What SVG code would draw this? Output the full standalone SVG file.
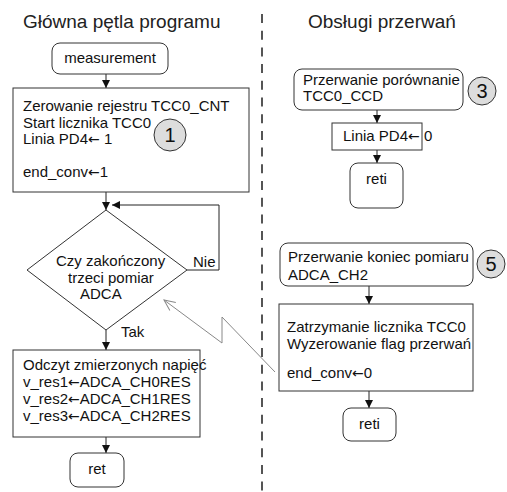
<svg xmlns="http://www.w3.org/2000/svg" width="507" height="492" viewBox="0 0 507 492">
<style>
text{font-family:"Liberation Sans",Arial,sans-serif;font-size:15px;fill:#111}
.ar{font-family:"DejaVu Sans",sans-serif;font-size:14px}
.title{font-size:19px;fill:#222}
.box{fill:#fff;stroke:#333;stroke-width:1}
.badge{fill:#ddd;stroke:#333;stroke-width:1}
.num{font-size:20px;text-anchor:middle}
.mid{text-anchor:middle}
.flow{fill:none;stroke:#222;stroke-width:1;marker-end:url(#ah)}
.irq{fill:none;stroke:#888;stroke-width:1;marker-start:url(#oh)}
.sep{stroke:#555;stroke-width:2;stroke-dasharray:9 7.7}
</style>
<defs>
<marker id="ah" markerUnits="userSpaceOnUse" markerWidth="9" markerHeight="9" refX="8" refY="4" orient="auto">
<path d="M0,0 L8,4 L0,8 z" fill="#111"/>
</marker>
<marker id="oh" markerUnits="userSpaceOnUse" markerWidth="14" markerHeight="14" refX="12" refY="6" orient="auto-start-reverse">
<path d="M1,1 L12,6 L1,11" fill="none" stroke="#888" stroke-width="1"/>
</marker>
</defs>

<line class="sep" x1="262" y1="14" x2="262" y2="492"/>

<text class="title" x="23" y="28">Główna pętla programu</text>
<text class="title" x="308" y="28">Obsługi przerwań</text>

<g id="connectors">
<line class="flow" x1="106" y1="74" x2="106" y2="88"/>
<line class="flow" x1="106" y1="192" x2="106" y2="210"/>
<polyline class="flow" points="187,270 219,270 219,205 112,205"/>
<line class="flow" x1="106" y1="330" x2="106" y2="350"/>
<line class="flow" x1="106" y1="437" x2="106" y2="453"/>
<line class="flow" x1="377" y1="110" x2="377" y2="123"/>
<line class="flow" x1="377" y1="150" x2="377" y2="163"/>
<line class="flow" x1="369" y1="286" x2="369" y2="304"/>
<line class="flow" x1="369" y1="391" x2="369" y2="408"/>
<polyline class="irq" points="164,300 222,343 222,317 275,372"/>
<text x="193" y="267">Nie</text>
<text x="121" y="337">Tak</text>
</g>

<g id="measurement">
<rect class="box" x="52" y="43" width="116" height="31" rx="8"/>
<text class="mid" x="110" y="63">measurement</text>
</g>

<g id="init">
<rect class="box" x="13" y="88" width="236" height="104"/>
<text x="23" y="111">Zerowanie rejestru TCC0_CNT</text>
<text x="23" y="127.5">Start licznika TCC0</text>
<text x="23" y="144">Linia PD4<tspan class="ar">←</tspan> 1</text>
<text x="23" y="177">end_conv<tspan class="ar">←</tspan>1</text>
</g>

<g id="badge1">
<circle class="badge" cx="170" cy="135" r="16"/>
<text class="num" x="170" y="142">1</text>
</g>

<g id="decision">
<polygon class="box" points="106,210 187,270 106,330 27,270"/>
<text x="56" y="266">Czy zakończony</text>
<text x="68" y="283">trzeci pomiar</text>
<text x="80" y="299">ADCA</text>
</g>

<g id="read">
<rect class="box" x="13" y="350" width="187" height="87"/>
<text x="23" y="370">Odczyt zmierzonych napięć</text>
<text x="23" y="387">v_res1<tspan class="ar">←</tspan>ADCA_CH0RES</text>
<text x="23" y="404">v_res2<tspan class="ar">←</tspan>ADCA_CH1RES</text>
<text x="23" y="421">v_res3<tspan class="ar">←</tspan>ADCA_CH2RES</text>
</g>

<g id="ret">
<rect class="box" x="70" y="453" width="54" height="34" rx="8"/>
<text class="mid" x="97" y="474">ret</text>
</g>

<g id="irq-ccd">
<rect class="box" x="294" y="69" width="169" height="41" rx="8"/>
<text x="303" y="85">Przerwanie porównanie</text>
<text x="303" y="101">TCC0_CCD</text>
</g>

<g id="badge3">
<circle class="badge" cx="482" cy="91" r="14"/>
<text class="num" x="482" y="98">3</text>
</g>

<g id="pd4-low">
<rect class="box" x="332" y="123" width="90" height="27"/>
<text x="343" y="141">Linia PD4<tspan class="ar">←</tspan> 0</text>
</g>

<g id="reti1">
<rect class="box" x="350" y="163" width="53" height="45" rx="8"/>
<text class="mid" x="376.5" y="184">reti</text>
</g>

<g id="irq-adc">
<rect class="box" x="280" y="243" width="193" height="43" rx="8"/>
<text x="288" y="262">Przerwanie koniec pomiaru</text>
<text x="288" y="280">ADCA_CH2</text>
</g>

<g id="badge5">
<circle class="badge" cx="491" cy="264" r="14"/>
<text class="num" x="491" y="271">5</text>
</g>

<g id="stop">
<rect class="box" x="279" y="304" width="194" height="87"/>
<text x="287" y="332">Zatrzymanie licznika TCC0</text>
<text x="287" y="349">Wyzerowanie flag przerwań</text>
<text x="287" y="378">end_conv<tspan class="ar">←</tspan>0</text>
</g>

<g id="reti2">
<rect class="box" x="343" y="408" width="53" height="33" rx="8"/>
<text class="mid" x="369.5" y="429">reti</text>
</g>
</svg>
